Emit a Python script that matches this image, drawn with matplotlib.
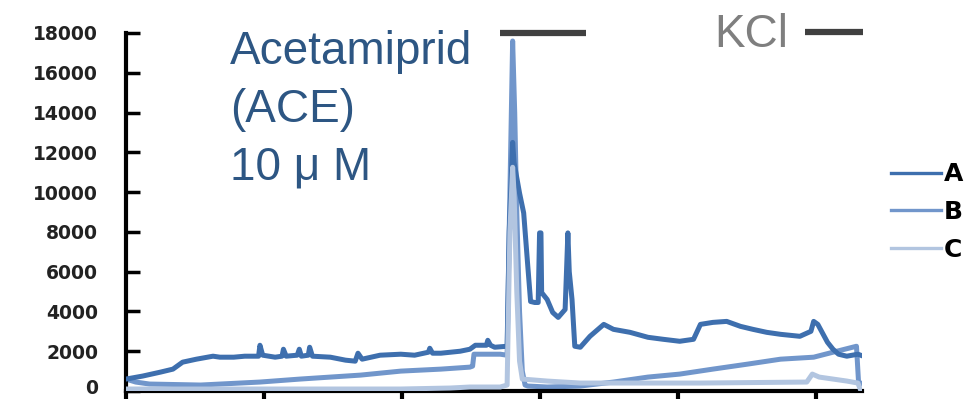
import matplotlib
matplotlib.use('Agg')
import matplotlib.pyplot as plt
from matplotlib.transforms import ScaledTranslation

# time axis in frames (unlabelled ticks every 100)
a_x = [0, 12, 25, 34, 41, 51, 63, 68, 78, 86, 96, 97, 99, 108, 113, 114, 116, 124, 125.5, 127,
       132, 133, 135, 148, 159, 166, 168, 171, 184, 199, 209, 219, 220, 222, 228, 242, 249, 253,
       261, 262, 264, 267, 276, 277.5, 280, 281, 285, 288, 291, 293, 296, 298.5, 299.5, 300.5, 301,
       305, 309, 313, 318, 319, 320, 321, 323, 325, 329, 336, 346, 353, 365, 378, 389, 401, 411,
       416, 425, 435, 445, 454, 464, 474, 488, 496, 498, 501, 508, 512, 516, 522, 530, 532]
a_y = [600, 750, 950, 1100, 1450, 1600, 1750, 1700, 1700, 1750, 1750, 2300, 1800, 1700, 1750, 2100, 1750, 1800, 2100, 1750,
       1800, 2200, 1750, 1700, 1550, 1500, 1900, 1600, 1800, 1850, 1800, 1950, 2150, 1900, 1900, 2000, 2100, 2300,
       2300, 2550, 2300, 2200, 2250, 8000, 12500, 11500, 9950, 8950, 6250, 4500, 4450, 4450, 7950, 7950, 4950,
       4600, 3950, 3700, 4100, 6000, 7950, 6000, 4600, 2250, 2200, 2750, 3350, 3100, 2950, 2700, 2600, 2500, 2600,
       3350, 3450, 3500, 3250, 3100, 2950, 2850, 2750, 3000, 3500, 3350, 2450, 2100, 1850, 1750, 1850, 1800]

b_x = [0, 7, 17, 54, 97, 126, 148, 170, 199, 228, 249, 251, 252, 271, 276, 277.5, 280, 281.5, 283,
       285, 287, 289, 291, 305, 329, 353, 378, 401, 425, 450, 474, 498, 512, 529, 530.5, 532]
b_y = [600, 450, 350, 300, 450, 600, 700, 800, 1000, 1100, 1200, 1250, 1850, 1850, 1800, 8000, 17600, 14000, 9000,
       4000, 1000, 300, 250, 200, 250, 450, 700, 850, 1100, 1350, 1600, 1700, 1950, 2250, 450, 400]

c_x = [0, 54, 126, 199, 235, 249, 271, 276, 278, 280, 281, 283, 285, 287, 305, 329, 416, 493, 497,
       502, 512, 522, 530, 532]
c_y = [100, 100, 100, 100, 150, 200, 200, 300, 8000, 11250, 10000, 5000, 1500, 600, 500, 400, 400, 450, 850,
       700, 600, 500, 400, 50]

series_names = ['A', 'B', 'C']
y_ticks = [0, 2000, 4000, 6000, 8000, 10000, 12000, 14000, 16000, 18000]
x_ticks = [0, 100, 200, 300, 400, 500]

# stimulus bars (frames)
ace_on, ace_off = 271, 333
kcl_on, kcl_off = 492, 534

c_a = '#3E6FAE'
c_b = '#7196CB'
c_c = '#B2C5E0'

fig = plt.figure(figsize=(9.67, 3.99), dpi=100)
ax = fig.add_axes([126 / 967, 8 / 399, 736 / 967, 358 / 399])

lb, = ax.plot(b_x, b_y, color=c_b, lw=3.6, label=series_names[1], zorder=2)
la, = ax.plot(a_x, a_y, color=c_a, lw=3.6, label=series_names[0], zorder=3)
lc, = ax.plot(c_x, c_y, color=c_c, lw=3.6, label=series_names[2], zorder=4)

ax.set_xlim(0, 533)
ax.set_ylim(0, 18000)
ax.set_yticks(y_ticks)
ax.set_xticks(x_ticks)
ax.set_xticklabels([])
ax.set_yticklabels([str(v) for v in y_ticks], fontsize=13.5, fontweight='bold', color='#222222')
ax.tick_params(axis='y', direction='in', length=10, width=2.5, pad=20)
ax.tick_params(axis='x', direction='out', length=7, width=3)
for s in ['top', 'right']:
    ax.spines[s].set_visible(False)
for s in ['left', 'bottom']:
    ax.spines[s].set_linewidth(3)
    ax.spines[s].set_color('black')

# keep the "0" label inside the canvas
zero_lbl = ax.yaxis.get_major_ticks()[0].label1
zero_lbl.set_transform(zero_lbl.get_transform() + ScaledTranslation(0, 3 / 72, fig.dpi_scale_trans))

# drug application bars
ax.plot([ace_on, ace_off], [18000, 18000], color='#404040', lw=4.5, solid_capstyle='butt', clip_on=False)
ax.plot([kcl_on, kcl_off], [18050, 18050], color='#404040', lw=4.5, solid_capstyle='butt', clip_on=False)

txt_blue = '#2D5683'
fnt = 'Liberation Sans'
for line, base in zip(['Acetamiprid', '(ACE)', '10 μ M'], [64, 122, 180]):
    fig.text(230 / 967, 1 - base / 399, line, fontsize=33, color=txt_blue, family=fnt, va='baseline', ha='left')
fig.text(714 / 967, 1 - 47 / 399, 'KCl', fontsize=33, color='#7F7F7F', family=fnt, va='baseline', ha='left')

leg = fig.legend(handles=[la, lb, lc], loc='center left', bbox_to_anchor=(891 / 967, 1 - 212 / 399),
                 frameon=False, handlelength=2.0, handletextpad=0.1, labelspacing=0.55,
                 borderpad=0, borderaxespad=0, prop={'weight': 'bold', 'size': 18})
for h in leg.get_lines():
    h.set_linewidth(2.4)

fig.savefig('out.png', dpi=100)
